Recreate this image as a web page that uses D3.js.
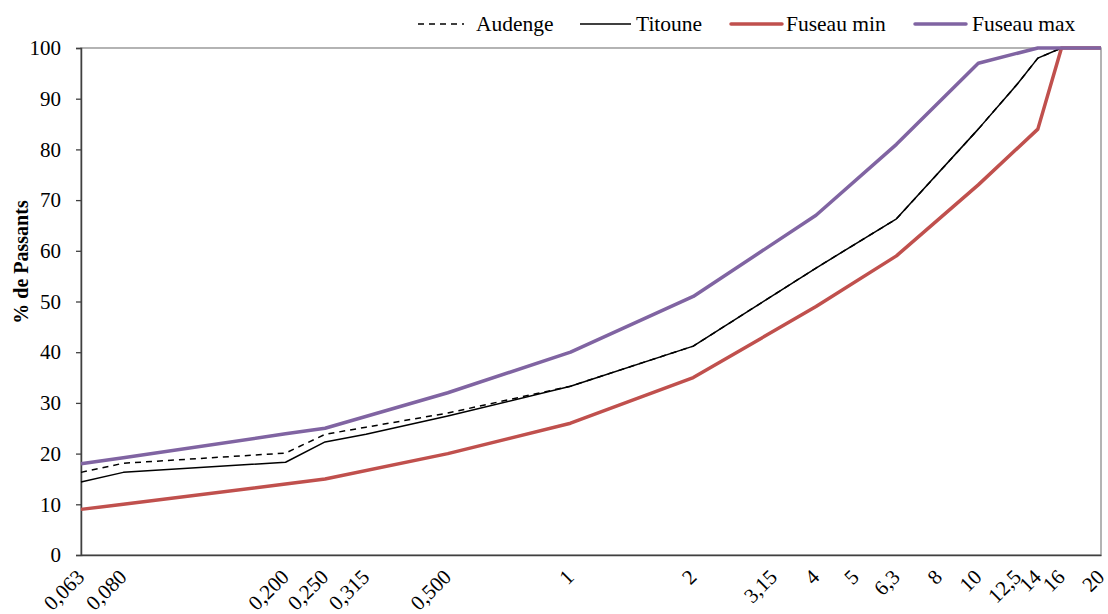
<!DOCTYPE html>
<html><head><meta charset="utf-8">
<script src="https://cdn.jsdelivr.net/npm/d3@7"></script>
</head><body style="margin:0;background:#fff"><svg id="c" width="1108" height="614"></svg>
<script>
const sieves = [0.063,0.08,0.2,0.25,0.315,0.5,1,2,3.15,4,5,6.3,8,10,12.5,14,16,20];
const sieveLabels = ["0,063","0,080","0,200","0,250","0,315","0,500","1","2","3,15","4","5","6,3","8","10","12,5","14","16","20"];
const yTicks = [0,10,20,30,40,50,60,70,80,90,100];

const audengeX = [0.063,0.08,0.2,0.25,0.315,0.5,1,2,4,6.3,10,12.5,14,16,20];
const audengeY = [16.3,18.1,20.1,23.8,25.2,28,33.3,41.2,56.6,66.3,84,93,98,100,100];
const titouneX = [0.063,0.08,0.2,0.25,0.315,0.5,1,2,4,6.3,10,12.5,14,16,20];
const titouneY = [14.4,16.3,18.3,22.3,23.8,27.4,33.3,41.2,56.6,66.3,84,93,98,100,100];
const minX = [0.063,0.08,0.2,0.25,0.5,1,2,4,6.3,10,14,16,20];
const minY = [9,10,14,15,20,26,35,49,59,73,84,100,100];
const maxX = [0.063,0.08,0.2,0.25,0.5,1,2,4,6.3,10,14,16,20];
const maxY = [18,19.2,23.9,25,32,40,51,67,81,97,100,100,100];

const series = [
  {name:"Audenge", xs:audengeX, ys:audengeY, color:"#000", width:1.5, dash:"6,5"},
  {name:"Titoune", xs:titouneX, ys:titouneY, color:"#000", width:1.5, dash:null},
  {name:"Fuseau min", xs:minX, ys:minY, color:"#C0504D", width:3.5, dash:null},
  {name:"Fuseau max", xs:maxX, ys:maxY, color:"#8064A2", width:3.5, dash:null}
];

const FONT = "'Liberation Serif', 'Times New Roman', Tinos, serif";
const svg = d3.select("#c");
const L=81, R=1101, T=48, B=555;
const x = d3.scaleLog().domain([0.063,20]).range([L,R]);
const y = d3.scaleLinear().domain([0,100]).range([B,T]);

// frame
svg.append("rect").attr("x",L).attr("y",T).attr("width",R-L).attr("height",B-T)
  .attr("fill","none").attr("stroke","#8c8c8c").attr("stroke-width",1.3);

// y axis
const ya = svg.append("g").attr("transform",`translate(${L},0)`)
  .call(d3.axisLeft(y).tickValues(yTicks).tickSize(5).tickPadding(15));
ya.select(".domain").attr("stroke","#404040").attr("stroke-width",1.5);
ya.selectAll(".tick line").attr("stroke","#404040").attr("stroke-width",1.3);
ya.selectAll("text").attr("fill","#000").style("font-family",FONT).style("font-size","21px");

// x axis
const xa = svg.append("g").attr("transform",`translate(0,${B})`)
  .call(d3.axisBottom(x).tickValues(sieves).tickSize(0).tickFormat((d,i)=>sieveLabels[i]));
xa.select(".domain").attr("stroke","#404040").attr("stroke-width",1.5);
xa.selectAll("text").attr("fill","#000").style("font-family",FONT).style("font-size","21px")
  .attr("text-anchor","end").attr("y",null).attr("dy","0.35em")
  .attr("transform","translate(-1,18) rotate(-45)");

// y title
svg.append("text").attr("transform","translate(28,262) rotate(-90)").attr("text-anchor","middle")
  .style("font-family",FONT).style("font-size","20px").style("font-weight","bold").text("% de Passants");

// lines
const line = d3.line().x(d=>x(d[0])).y(d=>y(d[1]));
series.forEach(s=>{
  const pts = s.xs.map((v,i)=>[v,s.ys[i]]);
  svg.append("path").datum(pts).attr("d",line).attr("fill","none")
    .attr("stroke",s.color).attr("stroke-width",s.width)
    .attr("stroke-dasharray",s.dash).attr("stroke-linejoin","round");
});

// legend
const legPos = [418,580,731,915];
const legTextGap = [58,56,55,57];
series.forEach((s,i)=>{
  const g = svg.append("g").attr("transform",`translate(${legPos[i]},24)`);
  g.append("line").attr("x1",0).attr("x2",s.dash?46:51).attr("y1",0).attr("y2",0)
    .attr("stroke",s.color).attr("stroke-width",s.width).attr("stroke-dasharray",s.dash)
    .attr("stroke-linecap", s.width>2 ? "round" : "butt");
  g.append("text").attr("x",legTextGap[i]).attr("y",7).style("font-family",FONT).style("font-size","21.5px").text(s.name);
});
</script></body></html>
